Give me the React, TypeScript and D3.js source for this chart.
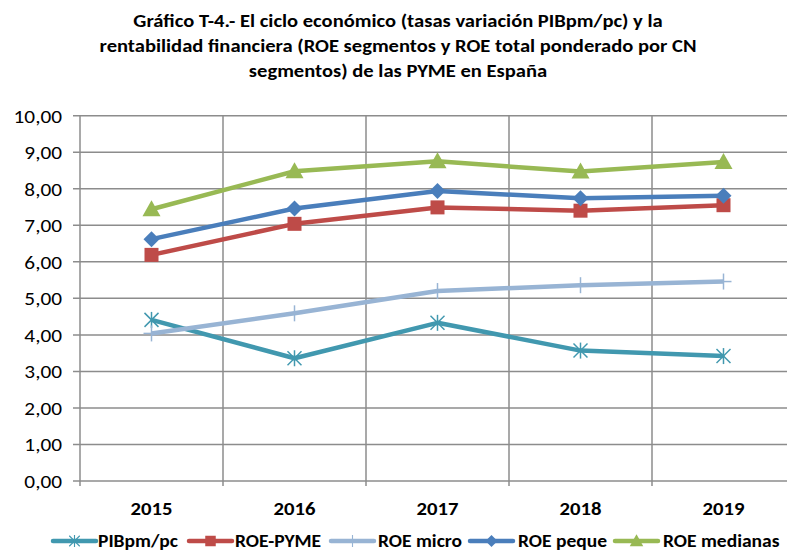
import React from "react";
import * as d3 from "d3";

const years = ["2015", "2016", "2017", "2018", "2019"];
const pib = [4.41, 3.36, 4.33, 3.57, 3.42];
const roePyme = [6.19, 7.04, 7.49, 7.4, 7.55];
const roeMicro = [4.04, 4.59, 5.2, 5.36, 5.46];
const roePeque = [6.62, 7.46, 7.94, 7.74, 7.81];
const roeMedianas = [7.44, 8.48, 8.75, 8.47, 8.73];
const yTicks = [0, 1, 2, 3, 4, 5, 6, 7, 8, 9, 10];
const titleLines = [
  "Gráfico T-4.- El ciclo económico (tasas variación PIBpm/pc) y la",
  "rentabilidad financiera (ROE segmentos y ROE total ponderado por CN",
  "segmentos) de las PYME en España",
];

const series = [
  { name: "PIBpm/pc", values: pib, color: "#4198AF", marker: "star" },
  { name: "ROE-PYME", values: roePyme, color: "#BE4B48", marker: "square" },
  { name: "ROE micro", values: roeMicro, color: "#98B4D4", marker: "plus" },
  { name: "ROE peque", values: roePeque, color: "#4A7EBB", marker: "diamond" },
  { name: "ROE medianas", values: roeMedianas, color: "#98B954", marker: "triangle" },
];

const FONT = "Carlito, 'Open Sans', sans-serif";
const SX = 1.15;

function T({
  x, y, anchor = "start", bold = false, size = 18, children,
}: { x: number; y: number; anchor?: string; bold?: boolean; size?: number; children: any }) {
  return (
    <text
      transform={`translate(${x},${y}) scale(${SX},1)`}
      textAnchor={anchor as any}
      fontWeight={bold ? "bold" : "normal"}
      fontSize={size}
      fill="#000"
    >
      {children}
    </text>
  );
}

function Marker({ type, x, y, color }: { type: string; x: number; y: number; color: string }) {
  if (type === "square") return <rect x={x - 7} y={y - 7} width={14} height={14} fill={color} />;
  if (type === "diamond")
    return <path d={`M${x},${y - 8}L${x + 8},${y}L${x},${y + 8}L${x - 8},${y}Z`} fill={color} />;
  if (type === "triangle")
    return <path d={`M${x},${y - 9}L${x + 9},${y + 7}L${x - 9},${y + 7}Z`} fill={color} />;
  if (type === "plus")
    return (
      <g stroke={color} strokeWidth={1.5}>
        <line x1={x} y1={y - 8} x2={x} y2={y + 8} />
        <line x1={x - 8} y1={y} x2={x + 8} y2={y} />
      </g>
    );
  return (
    <g stroke={color} strokeWidth={1.5}>
      <line x1={x - 7} y1={y - 7} x2={x + 7} y2={y + 7} />
      <line x1={x - 7} y1={y + 7} x2={x + 7} y2={y - 7} />
      <line x1={x} y1={y - 8} x2={x} y2={y + 8} />
    </g>
  );
}

export default function App() {
  const W = 787, H = 552;
  const left = 80, right = 795, top = 115.7, bottom = 481;
  const x = d3.scaleBand().domain(years).range([left, right]);
  const y = d3.scaleLinear().domain([0, 10]).range([bottom, top]);
  const cx = (yr: string) => (x(yr) as number) + x.bandwidth() / 2;
  const line = d3
    .line<number>()
    .x((_, i) => cx(years[i]))
    .y((v) => y(v));
  const fmt = (v: number) => d3.format(".2f")(v).replace(".", ",");

  const legendItems = [
    { lx: 53, tx: 98 },
    { lx: 189, tx: 235 },
    { lx: 331, tx: 378 },
    { lx: 470, tx: 518 },
    { lx: 615, tx: 663 },
  ];

  return (
    <svg
      width={W}
      height={H}
      style={{ position: "absolute", left: 0, top: 0, background: "#fff" }}
      fontFamily={FONT}
    >
      <rect width={W} height={H} fill="#fff" />
      {titleLines.map((t, i) => (
        <T key={i} x={398} y={27 + i * 25} anchor="middle" bold size={17.9}>
          {t}
        </T>
      ))}
      {yTicks.map((t) => (
        <g key={t}>
          <line x1={73} x2={W} y1={y(t)} y2={y(t)} stroke="#8C8C8C" strokeWidth={1.5} />
          <T x={62} y={y(t) + 7} anchor="end" size={18.5}>
            {fmt(t)}
          </T>
        </g>
      ))}
      {years.map((yr) => (
        <line
          key={yr}
          x1={(x(yr) as number) + x.bandwidth()}
          x2={(x(yr) as number) + x.bandwidth()}
          y1={top}
          y2={bottom + 5}
          stroke="#8C8C8C"
          strokeWidth={1.5}
        />
      ))}
      <line x1={left} x2={left} y1={top} y2={bottom + 5} stroke="#8C8C8C" strokeWidth={1.5} />
      {years.map((yr) => (
        <T key={yr} x={cx(yr)} y={515} anchor="middle" bold>
          {yr}
        </T>
      ))}
      {series.map((s) => (
        <g key={s.name}>
          <path d={line(s.values) || ""} fill="none" stroke={s.color} strokeWidth={4.5} strokeLinejoin="round" />
          {s.values.map((v, i) => (
            <Marker key={i} type={s.marker} x={cx(years[i])} y={y(v)} color={s.color} />
          ))}
        </g>
      ))}
      {series.map((s, i) => {
        const it = legendItems[i];
        const ly = 541;
        return (
          <g key={s.name}>
            <line x1={it.lx} x2={it.lx + 43} y1={ly} y2={ly} stroke={s.color} strokeWidth={4.5} strokeLinecap="round" />
            <g transform={`translate(${it.lx + 21.5},${ly}) scale(0.75)`}>
              <Marker type={s.marker} x={0} y={0} color={s.color} />
            </g>
            <T x={it.tx} y={547} bold size={17}>
              {s.name}
            </T>
          </g>
        );
      })}
    </svg>
  );
}
